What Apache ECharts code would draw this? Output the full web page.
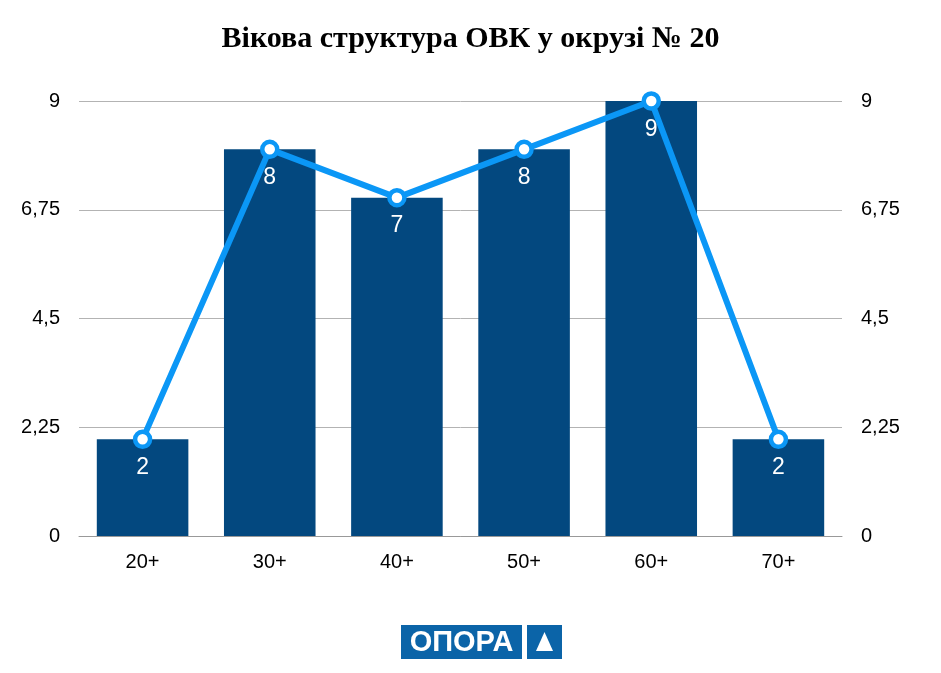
<!DOCTYPE html>
<html>
<head>
<meta charset="utf-8">
<script src="https://cdn.jsdelivr.net/npm/echarts@6/dist/echarts.min.js"></script>
<style>
  html, body { margin: 0; padding: 0; background: #fff; }
  #chart { width: 941px; height: 673px; }
</style>
</head>
<body>
<div id="chart"></div>
<script>
var categories = ['20+', '30+', '40+', '50+', '60+', '70+']
var barValues = [2, 8, 7, 8, 9, 2]
var lineValues = [2, 8, 7, 8, 9, 2]

var myChart = echarts.init(document.getElementById('chart'))

var axisLabel = {
  fontFamily: 'Liberation Sans',
  fontSize: 20,
  color: '#000',
  margin: 19,
  formatter: function (v) { return String(v).replace('.', ',') }
}

myChart.setOption({
  animation: false,
  title: {
    text: 'Вікова структура ОВК у окрузі № 20',
    left: 'center',
    top: 19,
    textStyle: { fontFamily: 'Liberation Serif', fontWeight: 'bold', fontSize: 30, color: '#000' }
  },
  grid: { left: 79, right: 99, top: 101, bottom: 137 },
  xAxis: {
    type: 'category',
    data: categories,
    axisTick: { show: false },
    axisLine: { lineStyle: { color: '#999' } },
    axisLabel: { fontFamily: 'Liberation Sans', fontSize: 20, color: '#000', margin: 16 }
  },
  yAxis: [
    {
      type: 'value', min: 0, max: 9, interval: 2.25,
      axisLabel: axisLabel,
      splitLine: { lineStyle: { color: '#b3b3b3' } },
      axisLine: { show: false }, axisTick: { show: false }
    },
    {
      type: 'value', min: 0, max: 9, interval: 2.25,
      axisLabel: axisLabel,
      splitLine: { show: false },
      axisLine: { show: false }, axisTick: { show: false }
    }
  ],
  series: [
    {
      type: 'bar',
      data: barValues,
      barWidth: '72%',
      itemStyle: { color: '#03487f' }
    },
    {
      type: 'line',
      data: lineValues,
      yAxisIndex: 1,
      symbol: 'circle',
      symbolSize: 15,
      lineStyle: { color: '#0b97f6', width: 6 },
      itemStyle: { color: '#fff', borderColor: '#0b97f6', borderWidth: 4.5 },
      label: {
        show: true,
        position: 'bottom',
        distance: 7,
        color: '#fff',
        fontFamily: 'Liberation Sans',
        fontSize: 23
      },
      z: 3
    }
  ],
  graphic: [
    { type: 'rect', shape: { x: 401, y: 625, width: 121, height: 34 }, style: { fill: '#0b64a8' } },
    { type: 'text', style: { x: 461.5, y: 643, text: 'ОПОРА', fill: '#fff', font: 'bold 29px "Liberation Sans"', textAlign: 'center', textVerticalAlign: 'middle' } },
    { type: 'rect', shape: { x: 527, y: 625, width: 35, height: 34 }, style: { fill: '#0b64a8' } },
    { type: 'polygon', shape: { points: [[544.5, 632], [553, 651], [536, 651]] }, style: { fill: '#fff' } }
  ]
})
</script>
</body>
</html>
